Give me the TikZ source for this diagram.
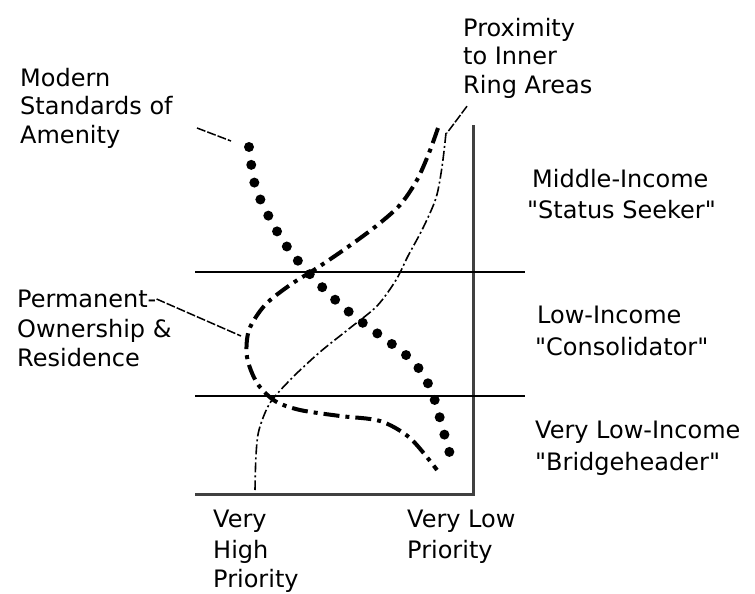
\documentclass[tikz,border=0pt]{standalone}
\usepackage{fontspec}
\setmainfont{DejaVu Sans}[Ligatures=TeXOff]

\begin{document}
\begin{tikzpicture}[x=1pt,y=-1pt,
  lbl/.style={anchor=base west,inner sep=0pt,font=\fontsize{24}{30}\selectfont},
  axis/.style={draw=black!75,line width=3pt},
  band/.style={draw=black,line width=1.8pt},
  amenity/.style={line width=10pt,line cap=round,dash pattern=on 0pt off 18pt},
  owner/.style={line width=4pt,dash pattern=on 16pt off 6pt on 4pt off 6pt},
  proxi/.style={line width=1.6pt,dash pattern=on 10pt off 3pt on 2pt off 3pt},
  leader/.style={line width=1.5pt,dash pattern=on 9pt off 2pt}]
\useasboundingbox (0,0) rectangle (755,594);
% frame and income bands
\coordinate (ytop) at (473,125);
\coordinate (origin) at (473,494);
\coordinate (xleft) at (195,494);
\coordinate (midl) at (195,272);
\coordinate (midr) at (525,272);
\coordinate (lowl) at (195,396);
\coordinate (lowr) at (525,396);
\draw [axis] (ytop) -- (origin) -- (xleft);
\draw [band] (midl) -- (midr);
\draw [band] (lowl) -- (lowr);
% curves
\draw [amenity] plot[smooth] coordinates {(249,147) (252,170) (256,189) (264,207) (275,228) (290,251) (306,270) (322,287) (342,306) (363,323) (385,339) (406,355) (423,374) (434,398) (441,422) (447,444) (454,467)};
\draw [owner] plot[smooth] coordinates {(438,128) (429,153) (417,180) (400,205) (375,227) (345,249) (317,268) (290,285) (265,305) (249,330) (247,357) (257,383) (275,401) (300,410) (340,416) (380,421) (410,438) (437,470)};
\draw [proxi] plot[smooth] coordinates {(446,133) (442,167) (436,198) (423,228) (408,256) (396,280) (377,306) (350,328) (320,352) (292,378) (270,403) (259,430) (256,455) (255,490)};
\coordinate (amenitytop) at (231,141);
\coordinate (ownerleft) at (241,336);
\coordinate (proxitop) at (447,133);
% labels
\node [lbl] (modern) at (20,86) {Modern};
\node [lbl] (standards) at (20,114) {Standards of};
\node [lbl] (amenityl) at (20,143) {Amenity};
\node [lbl] (proximity) at (463,37) {Proximity};
\node [lbl] (inner) at (463,65) {to Inner};
\node [lbl] (ring) at (463,93) {Ring Areas};
\node [lbl] (permanent) at (17,307) {Permanent-};
\node [lbl] (ownership) at (17,337) {Ownership \&};
\node [lbl] (residence) at (17,366) {Residence};
\node [lbl] (middle) at (532,187) {Middle-Income};
\node [lbl] (seeker) at (527,218) {"Status Seeker"};
\node [lbl] (low) at (537,323) {Low-Income};
\node [lbl] (consol) at (535,355) {"Consolidator"};
\node [lbl] (verylow) at (535,438) {Very Low-Income};
\node [lbl] (bridge) at (535,470) {"Bridgeheader"};
\node [lbl] (very) at (213,527) {Very};
\node [lbl] (high) at (213,558) {High};
\node [lbl] (priohigh) at (213,587) {Priority};
\node [lbl] (verylowp) at (407,527) {Very Low};
\node [lbl] (priolow) at (407,558) {Priority};
% leaders
\draw [leader] (197,128) -- (amenitytop);
\draw [leader] (permanent.base east) ++(0,-8) -- (ownerleft);
\draw [leader] (ring.south west) ++(4,8) -- (proxitop);
\end{tikzpicture}
\end{document}
